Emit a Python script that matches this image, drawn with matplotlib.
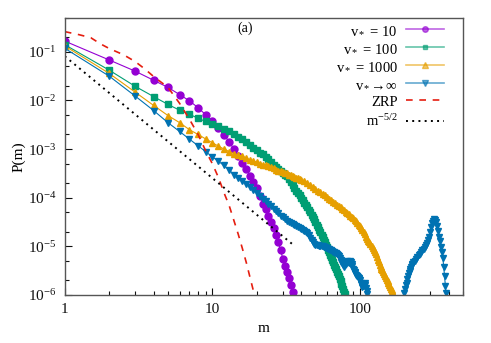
import numpy as np
import matplotlib
matplotlib.use("Agg")
import matplotlib.pyplot as plt
from matplotlib.ticker import FuncFormatter, LogLocator, NullFormatter
from matplotlib.lines import Line2D

plt.rcParams['font.family'] = ['Liberation Serif', 'DejaVu Serif']
plt.rcParams['mathtext.fontset'] = 'custom'
plt.rcParams['mathtext.rm'] = 'Liberation Serif'
plt.rcParams['mathtext.it'] = 'Liberation Serif:italic'
plt.rcParams['axes.unicode_minus'] = False

# ---- data ----
m_10 = list(range(1, 36))
p_10 = [1.66e-1, 6.8e-2, 4.0e-2, 2.6e-2, 1.86e-2, 1.32e-2, 9.8e-3, 7.1e-3, 5.1e-3, 3.7e-3,
        2.75e-3, 1.95e-3, 1.41e-3, 1.0e-3, 7.2e-4, 5.2e-4, 3.9e-4, 2.8e-4, 2.1e-4, 1.6e-4,
        1.1e-4, 7.6e-5, 5.8e-5, 4.2e-5, 3.2e-5, 2.4e-5, 1.7e-5, 1.2e-5, 8.5e-6, 5.6e-6,
        4.0e-6, 3.0e-6, 2.2e-6, 1.6e-6, 1.17e-6]

m_100 = list(range(1, 80))
p_100 = [1.4e-1, 4.2e-2, 1.95e-2, 1.2e-2, 8.3e-3, 6.3e-3, 5.2e-3, 4.3e-3, 3.7e-3, 3.3e-3,
         3.0e-3, 2.6e-3, 2.3e-3, 2.0e-3, 1.8e-3, 1.6e-3, 1.38e-3, 1.2e-3, 1.07e-3, 9.5e-4,
         8.5e-4, 7.8e-4, 6.9e-4, 6.2e-4, 5.4e-4, 4.8e-4, 4.3e-4, 3.9e-4, 3.6e-4, 3.3e-4,
         3.0e-4, 2.75e-4, 2.4e-4, 2.1e-4, 1.8e-4, 1.6e-4, 1.4e-4, 1.26e-4, 1.12e-4, 1.0e-4,
         8.9e-5, 7.9e-5, 7.1e-5, 6.3e-5, 5.6e-5, 5.0e-5, 4.5e-5, 4.0e-5, 3.6e-5, 3.2e-5,
         2.8e-5, 2.45e-5, 2.2e-5, 1.95e-5, 1.74e-5, 1.55e-5, 1.38e-5, 1.23e-5, 1.08e-5, 9.5e-6,
         8.5e-6, 7.6e-6, 6.7e-6, 5.9e-6, 5.3e-6, 4.7e-6, 4.2e-6, 3.8e-6, 3.4e-6, 3.0e-6,
         2.7e-6, 2.4e-6, 2.1e-6, 1.9e-6, 1.7e-6, 1.5e-6, 1.33e-6, 1.17e-6, 1.03e-6]

m_1000 = list(range(1, 41)) + list(range(42, 169, 2))
p_1000 = [1.32e-1, 3.6e-2, 1.48e-2, 7.9e-3, 4.9e-3, 3.5e-3, 2.5e-3, 2.0e-3, 1.62e-3, 1.35e-3,
          1.15e-3, 1.0e-3, 8.9e-4, 8.1e-4, 7.6e-4, 7.1e-4, 6.5e-4, 6.0e-4, 5.7e-4, 5.4e-4,
          5.0e-4, 4.8e-4, 4.6e-4, 4.4e-4, 4.2e-4, 4.0e-4, 3.8e-4, 3.6e-4, 3.5e-4, 3.4e-4,
          3.2e-4, 3.15e-4, 3.0e-4, 2.9e-4, 2.8e-4, 2.7e-4, 2.6e-4, 2.5e-4, 2.45e-4, 2.35e-4,
          2.2e-4, 2.05e-4, 1.86e-4, 1.66e-4, 1.5e-4, 1.4e-4, 1.3e-4, 1.2e-4, 1.12e-4, 1.02e-4,
          9.5e-5, 8.9e-5, 8.3e-5, 7.8e-5, 7.2e-5, 6.8e-5, 6.3e-5, 5.9e-5, 5.5e-5, 5.1e-5,
          4.8e-5, 4.6e-5, 4.3e-5, 4.0e-5, 3.8e-5, 3.5e-5, 3.3e-5, 3.0e-5, 2.8e-5, 2.6e-5,
          2.4e-5, 2.2e-5, 1.95e-5, 1.78e-5, 1.58e-5, 1.41e-5, 1.29e-5, 1.2e-5, 1.12e-5, 1.02e-5,
          9.3e-6, 8.5e-6, 7.6e-6, 6.8e-6, 5.9e-6, 5.2e-6, 4.7e-6, 4.2e-6, 3.8e-6, 3.5e-6,
          3.2e-6, 2.9e-6, 2.7e-6, 2.45e-6, 2.2e-6, 2.0e-6, 1.9e-6, 1.74e-6, 1.6e-6, 1.48e-6,
          1.35e-6, 1.26e-6, 1.15e-6, 1.07e-6]

# v* -> infinity: main branch, then the isolated peak at large m
m_inf = list(range(1, 113))
p_inf = [1.18e-1, 3.16e-2, 1.23e-2, 6.2e-3, 3.5e-3, 2.3e-3, 1.6e-3, 1.17e-3, 8.9e-4, 6.9e-4,
         5.6e-4, 4.6e-4, 3.7e-4, 3.0e-4, 2.6e-4, 2.2e-4, 1.9e-4, 1.65e-4, 1.45e-4, 1.26e-4,
         1.1e-4, 9.5e-5, 8.5e-5, 7.6e-5, 6.8e-5, 6.0e-5, 5.4e-5, 4.8e-5, 4.3e-5, 4.0e-5,
         3.6e-5, 3.3e-5, 3.2e-5, 3.0e-5, 2.9e-5, 2.75e-5, 2.6e-5, 2.5e-5, 2.4e-5, 2.3e-5,
         2.2e-5, 2.1e-5, 2.0e-5, 1.86e-5, 1.7e-5, 1.5e-5, 1.35e-5, 1.2e-5, 1.12e-5, 1.07e-5,
         1.06e-5, 1.05e-5, 1.03e-5, 1.02e-5, 1.01e-5, 1.0e-5, 9.7e-6, 9.5e-6, 9.3e-6, 9.1e-6,
         9.0e-6, 8.9e-6, 8.6e-6, 8.3e-6, 7.9e-6, 7.6e-6, 7.5e-6, 7.4e-6, 7.2e-6, 7.1e-6,
         6.7e-6, 6.3e-6, 5.8e-6, 5.2e-6, 4.8e-6, 4.5e-6, 4.1e-6, 3.8e-6, 4.1e-6, 4.4e-6,
         4.7e-6, 4.9e-6, 4.8e-6, 4.6e-6, 4.8e-6, 5.0e-6, 4.7e-6, 4.4e-6, 3.9e-6, 3.5e-6,
         3.2e-6, 3.0e-6, 2.8e-6, 2.6e-6, 2.5e-6, 2.4e-6, 2.3e-6, 2.2e-6, 2.1e-6, 2.0e-6,
         1.8e-6, 1.66e-6, 1.55e-6, 1.48e-6, 1.52e-6, 1.58e-6, 1.66e-6, 1.74e-6, 1.6e-6, 1.41e-6,
         1.2e-6, 1.05e-6]
m_peak = [200, 202, 205, 207, 210, 212, 215, 217, 220, 222, 225, 227, 230, 235, 240, 245,
          250, 255, 260, 265, 270, 275, 280, 285, 290, 295, 300, 305, 310, 315, 320, 325,
          330, 335, 340, 345, 350, 355, 360, 365, 370, 375, 380, 383]
p_peak = [1.1e-6, 1.3e-6, 1.6e-6, 1.8e-6, 2.1e-6, 2.4e-6, 2.8e-6, 3.1e-6, 3.5e-6, 3.8e-6,
          4.2e-6, 4.4e-6, 4.7e-6, 5.0e-6, 5.4e-6, 6.0e-6, 6.6e-6, 7.1e-6, 7.6e-6, 8.3e-6,
          8.9e-6, 9.5e-6, 1.05e-5, 1.17e-5, 1.32e-5, 1.58e-5, 2.0e-5, 2.5e-5, 3.0e-5, 3.4e-5,
          3.6e-5, 3.55e-5, 3.2e-5, 2.6e-5, 2.1e-5, 1.58e-5, 1.26e-5, 9.5e-6, 7.6e-6, 5.8e-6,
          3.8e-6, 2.4e-6, 1.5e-6, 1.12e-6]

m_zrp = [1, 1.25, 1.5, 1.75, 2, 2.5, 3, 3.5, 4, 5, 6, 7, 8, 9, 10, 11, 12, 13, 14, 15, 16, 17, 18, 19, 20]
p_zrp = [2.6e-1, 2.25e-1, 1.95e-1, 1.45e-1, 1.17e-1, 8.7e-2, 6.3e-2, 4.4e-2, 3.1e-2, 1.86e-2,
         8.7e-3, 4.1e-3, 2.0e-3, 9.3e-4, 5.0e-4, 2.6e-4, 1.26e-4, 6.9e-5, 3.4e-5, 1.75e-5,
         8.9e-6, 4.6e-6, 2.3e-6, 1.2e-6, 6.0e-7]

# reference power law m^-5/2 (straight line in log-log)
m_pow = [1, 35]
p_pow = [8.1e-2, 1.1e-5]

# ---- plot ----
fig = plt.figure(figsize=(4.91, 3.43), dpi=100)
ax = fig.add_axes([0.132, 0.140, 0.811, 0.808])

ms = 5
c10, c100, c1000, cinf = '#9400d3', '#009e73', '#e69f00', '#0072b2'
ax.plot(m_10, p_10, '-o', color=c10, lw=0.8, ms=ms)
ax.plot(m_100, p_100, '-s', color=c100, lw=0.8, ms=ms - 0.5)
ax.plot(m_1000, p_1000, '-^', color=c1000, lw=0.8, ms=ms)
ax.plot(m_inf, p_inf, '-v', color=cinf, lw=0.8, ms=ms)
ax.plot(m_peak, p_peak, '-v', color=cinf, lw=0.8, ms=ms)
ax.plot(m_zrp, p_zrp, '--', color='#e51e10', lw=1.2, dashes=(4, 4))
ax.plot(m_pow, p_pow, ':', color='black', lw=1.4, dashes=(1, 2.2))

ax.set_xscale('log')
ax.set_yscale('log')
ax.set_xlim(1, 500)
ax.set_ylim(1e-6, 0.5)

ax.xaxis.set_major_formatter(FuncFormatter(lambda v, p: '%d' % v))
ax.xaxis.set_minor_formatter(NullFormatter())
ax.yaxis.set_minor_locator(LogLocator(base=10, subs=(2, 5)))
ax.yaxis.set_minor_formatter(NullFormatter())

ax.tick_params(which='both', direction='in', labelsize=11, colors='#111111', top=False, right=False)
ax.tick_params(which='major', length=5, width=0.8, pad=6)
ax.tick_params(which='minor', length=3, width=0.8)
for s in ax.spines.values():
    s.set_color('#555555')
    s.set_linewidth(1.0)

ax.set_xlabel('m', fontsize=11, labelpad=4)
ax.set_ylabel('P(m)', fontsize=11, labelpad=2)
ax.text(0.452, 0.985, '(a)', transform=ax.transAxes, ha='center', va='top', fontsize=10)

# legend: pale line with a small marker, like the reference key
handles = [
    Line2D([], [], color=c10, lw=1.2, alpha=0.6, marker='o', ms=4, mfc=c10, mec=c10),
    Line2D([], [], color=c100, lw=1.2, alpha=0.6, marker='s', ms=3.5, mfc=c100, mec=c100),
    Line2D([], [], color=c1000, lw=1.2, alpha=0.6, marker='^', ms=4, mfc=c1000, mec=c1000),
    Line2D([], [], color=cinf, lw=1.2, alpha=0.6, marker='v', ms=4, mfc=cinf, mec=cinf),
    Line2D([], [], color='#e51e10', lw=1.2, ls='--', dashes=(4, 4)),
    Line2D([], [], color='black', lw=1.4, ls=':', dashes=(1, 2.2)),
]
labels = ['v$_*$ = 10', 'v$_*$ = 100', 'v$_*$ = 1000', 'v$_*$→∞', 'ZRP', 'm$^{\\mathregular{-5/2}}$']
ax.legend(handles, labels, loc='upper right', bbox_to_anchor=(0.975, 1.01), frameon=False,
          markerfirst=False, fontsize=10.5, handlelength=2.6, labelspacing=0.32,
          borderaxespad=0.3, borderpad=0.3, numpoints=1, handletextpad=0.6)

fig.savefig('out.png', dpi=100)
